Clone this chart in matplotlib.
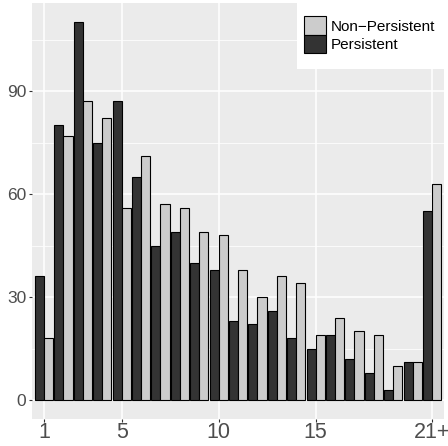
import numpy as np
import matplotlib
matplotlib.use("Agg")
import matplotlib.pyplot as plt
from matplotlib.patches import Rectangle, Patch

# visits 1..20 and 21+
categories = list(range(1, 22))
persistent = [36, 80, 110, 75, 87, 65, 45, 49, 40, 38, 23, 22, 26, 18, 15, 19, 12, 8, 3, 11, 55]
non_persistent = [18, 77, 87, 82, 56, 71, 57, 56, 49, 48, 38, 30, 36, 34, 19, 24, 20, 19, 10, 11, 63]
x_breaks = [1, 5, 10, 15, 21]
x_labels = ["1", "5", "10", "15", "21+"]
y_breaks = [0, 30, 60, 90]

plt.rcParams['font.family'] = ['Liberation Sans', 'DejaVu Sans']

fig = plt.figure(figsize=(4.48, 4.46), dpi=100)
ax = fig.add_axes([0.0723, 0.0608, 0.9181, 0.9314])
ax.set_facecolor('#EBEBEB')

x = np.array(categories)
w = 0.47
ax.bar(x - w / 2, persistent, width=w, color='#333333', edgecolor='black', linewidth=0.8, zorder=3)
ax.bar(x + w / 2, non_persistent, width=w, color='#CCCCCC', edgecolor='black', linewidth=0.8, zorder=3)

ax.set_xlim(0.4, 21.6)
ax.set_ylim(-5.5, 115.5)
ax.set_xticks(x_breaks)
ax.set_xticklabels(x_labels)
ax.set_yticks(y_breaks)
ax.set_yticks([15, 45, 75, 105], minor=True)

ax.grid(which='major', color='white', linewidth=1.1, zorder=1)
ax.grid(which='minor', axis='y', color='white', linewidth=0.55, zorder=1)
ax.set_axisbelow(True)
for s in ax.spines.values():
    s.set_visible(False)

ax.tick_params(axis='both', which='major', length=2.5, width=0.8, color='#333333',
               labelcolor='#4D4D4D')
ax.tick_params(axis='y', labelsize=12.5, pad=2)
ax.tick_params(axis='x', labelsize=15.5, pad=0)
ax.tick_params(which='minor', length=0)

# legend box (white, top right)
fig.patches.append(Rectangle((297 / 448, 1 - 69 / 446), 151 / 448, 69 / 446,
                             transform=fig.transFigure, facecolor='white', edgecolor='none', zorder=4))
handles = [Patch(facecolor='#CCCCCC', edgecolor='black', linewidth=0.8),
           Patch(facecolor='#333333', edgecolor='black', linewidth=0.8)]
fig.legend(handles, ['Non\u2212Persistent', 'Persistent'], loc='upper left',
           bbox_to_anchor=(304 / 448, 1 - 16.5 / 446), frameon=False, fontsize=11,
           handlelength=1.44, handleheight=1.47, handletextpad=0.3, labelspacing=0.0,
           borderpad=0, borderaxespad=0)

fig.savefig('out.png', dpi=100)
